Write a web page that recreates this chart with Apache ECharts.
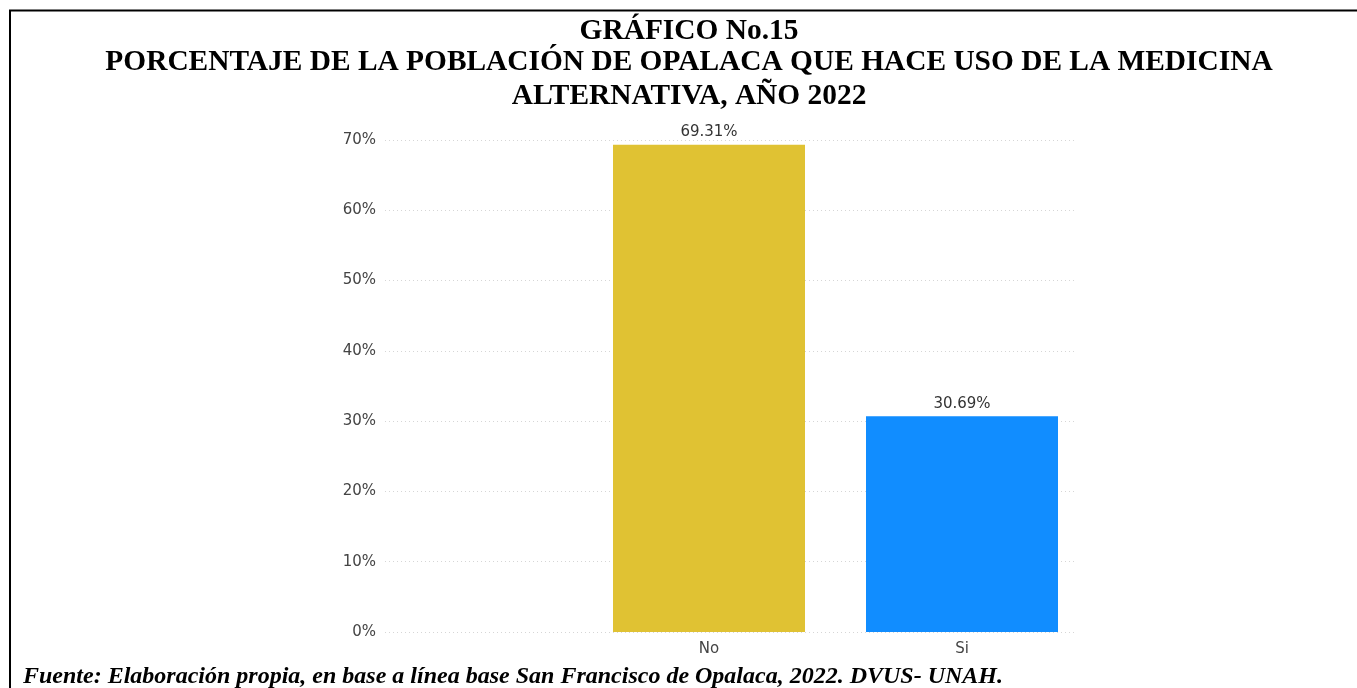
<!DOCTYPE html>
<html>
<head>
<meta charset="utf-8">
<script src="https://cdn.jsdelivr.net/npm/echarts@6/dist/echarts.min.js"></script>
<style>
html,body{margin:0;padding:0;background:#fff;}
#chart{width:1357px;height:688px;}
</style>
</head>
<body>
<div id="chart"></div>
<script>
var titleLines = [
  'GRÁFICO No.15',
  'PORCENTAJE DE LA POBLACIÓN DE OPALACA QUE HACE USO DE LA MEDICINA',
  'ALTERNATIVA, AÑO 2022'
];
var footerText = 'Fuente: Elaboración propia, en base a línea base San Francisco de Opalaca, 2022. DVUS- UNAH.';
var categories = ['No', 'Si'];
var values = [69.31, 30.69];
var barColors = ['#E0C233', '#118DFF'];
var yMin = 0, yMax = 70, yInterval = 10;

var chart = echarts.init(document.getElementById('chart'), null, {renderer: 'canvas'});
var labelFont = 'DejaVu Sans';
var titleMids = [31, 62.5, 96.5];

var graphics = [
  {type: 'line', shape: {x1: 9, y1: 10.5, x2: 1357, y2: 10.5}, style: {stroke: '#000', lineWidth: 2}, z: 10},
  {type: 'line', shape: {x1: 10, y1: 10, x2: 10, y2: 688}, style: {stroke: '#000', lineWidth: 2}, z: 10},
  {type: 'text', x: 23, y: 677, style: {text: footerText, font: 'italic bold 24px "Liberation Serif"', fill: '#000', textAlign: 'left', textVerticalAlign: 'middle'}}
];
titleLines.forEach(function (t, i) {
  graphics.push({type: 'text', x: 689, y: titleMids[i], style: {text: t, font: 'bold 29.4px "Liberation Serif"', fill: '#000', textAlign: 'center', textVerticalAlign: 'middle'}});
});

var option = {
  animation: false,
  backgroundColor: '#fff',
  graphic: graphics,
  grid: [
    {left: 385, right: 282, top: 140, bottom: 56, containLabel: false},
    {left: 582.5, right: 268.5, top: 140, bottom: 56, containLabel: false}
  ],
  xAxis: [
    {type: 'category', gridIndex: 0, data: categories, show: false},
    {type: 'category', gridIndex: 1, data: categories,
     axisLine: {show: false}, axisTick: {show: false},
     axisLabel: {color: '#444', fontFamily: labelFont, fontSize: 15, margin: 10}}
  ],
  yAxis: [
    {type: 'value', gridIndex: 0, min: yMin, max: yMax, interval: yInterval,
     axisLine: {show: false}, axisTick: {show: false},
     axisLabel: {formatter: '{value}%', color: '#444', fontFamily: labelFont, fontSize: 15, margin: 9},
     splitLine: {show: true, lineStyle: {color: '#d6d6d6', width: 1, type: [1, 3]}}},
    {type: 'value', gridIndex: 1, min: yMin, max: yMax, interval: yInterval, show: false,
     splitLine: {show: false}}
  ],
  series: [
    {type: 'bar', xAxisIndex: 1, yAxisIndex: 1,
     data: values.map(function (v, i) { return {value: v, itemStyle: {color: barColors[i]}}; }),
     barWidth: 192,
     label: {show: true, position: 'top', distance: 5, color: '#333', fontFamily: labelFont, fontSize: 15,
             formatter: function (p) { return p.value.toFixed(2) + '%'; }}}
  ]
};
chart.setOption(option);
</script>
</body>
</html>
